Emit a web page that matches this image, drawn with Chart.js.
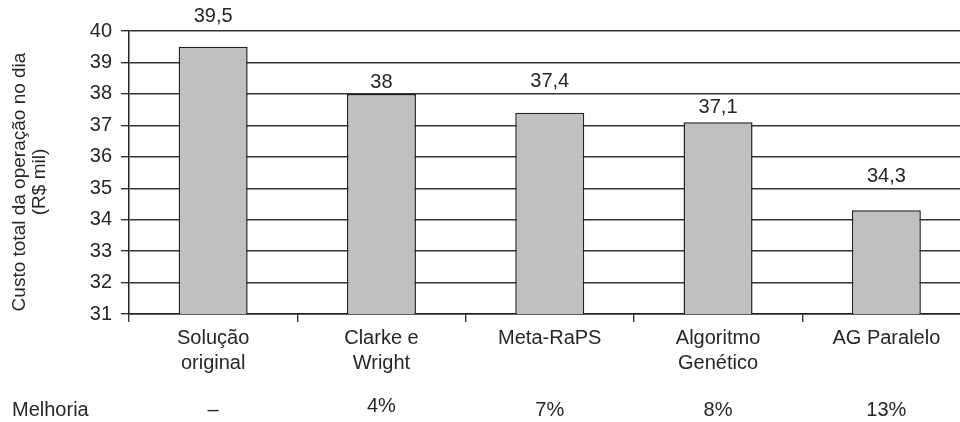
<!DOCTYPE html>
<html>
<head>
<meta charset="utf-8">
<script src="https://cdn.jsdelivr.net/npm/chart.js@4"></script>
<style>
  html, body { margin: 0; padding: 0; background: #fff; overflow: hidden; width: 960px; height: 422px; }
  canvas { display: block; }
</style>
</head>
<body>
<canvas id="chart" width="972" height="422"></canvas>
<script>
// ---- data ----
const categories = [['Solução', 'original'], ['Clarke e', 'Wright'], 'Meta-RaPS', ['Algoritmo', 'Genético'], 'AG Paralelo'];
const custo = [39.5, 38, 37.4, 37.1, 34.3];
const melhoria = ['–', '4%', '7%', '8%', '13%'];
const rowLabel = 'Melhoria';
const yMin = 31, yMax = 40, yStep = 1;
const axisTitle = ['Custo total da operação no dia', '(R$ mil)'];

// ---- styling ----
const FONT = '"Liberation Sans", Arial, Helvetica, sans-serif';
const INK = '#262626';
const LINE = '#333333';
const valueLift = [30, 11, 31, 15, 34];      // label height above each bar top (px)
const improvementLift = [0, 4, 0, 0, 0];     // small vertical nudges in the improvement row
const ROW_Y = 410;
const TITLE_X = [20, 40], TITLE_Y = 182;

Chart.defaults.font.family = FONT;
Chart.defaults.color = INK;

const fmt = v => String(v).replace('.', ',');

const annotations = {
  id: 'annotations',
  afterDatasetsDraw(chart) {
    const ctx = chart.ctx;
    const meta = chart.getDatasetMeta(0);
    const xs = chart.scales.x;
    ctx.save();
    ctx.font = '20px ' + FONT;
    ctx.fillStyle = INK;
    ctx.textBaseline = 'middle';
    ctx.textAlign = 'center';
    // values above the bars
    meta.data.forEach((bar, i) => {
      ctx.fillText(fmt(custo[i]), bar.x, bar.y - valueLift[i]);
    });
    // improvement row under the category labels
    ctx.textAlign = 'left';
    ctx.fillText(rowLabel, 12, ROW_Y);
    ctx.textAlign = 'center';
    melhoria.forEach((m, i) => {
      ctx.fillText(m, xs.getPixelForValue(i), ROW_Y - improvementLift[i]);
    });
    // rotated y-axis title
    ctx.font = '19px ' + FONT;
    axisTitle.forEach((line, i) => {
      ctx.save();
      ctx.translate(TITLE_X[i], TITLE_Y);
      ctx.rotate(-Math.PI / 2);
      ctx.fillText(line, 0, 0);
      ctx.restore();
    });
    ctx.restore();
  }
};

new Chart(document.getElementById('chart'), {
  type: 'bar',
  data: {
    labels: categories,
    datasets: [{
      data: custo,
      backgroundColor: '#c0c0c0',
      borderColor: '#222222',
      borderWidth: 1.5,
      borderSkipped: false,
      barPercentage: 0.41,
      categoryPercentage: 1.0
    }]
  },
  options: {
    responsive: false,
    animation: false,
    layout: { padding: { top: 31, right: 1.5, left: 0, bottom: 0 } },
    plugins: { legend: { display: false }, tooltip: { enabled: false } },
    scales: {
      x: {
        offset: true,
        grid: { offset: true, drawOnChartArea: false, drawTicks: true, tickLength: 8, color: LINE, lineWidth: 1.4 },
        border: { display: true, color: '#222222', width: 1.5 },
        ticks: { color: INK, font: { size: 20, lineHeight: 1.25 }, padding: 4, maxRotation: 0, autoSkip: false },
        afterFit(s) { s.height = 108; }
      },
      y: {
        min: yMin,
        max: yMax,
        ticks: { stepSize: yStep, color: INK, font: { size: 20 }, padding: 9 },
        grid: { color: LINE, lineWidth: 1.4, tickLength: 8 },
        border: { display: true, color: '#222222', width: 1.5 },
        afterFit(s) { s.width = 129; }
      }
    }
  },
  plugins: [annotations]
});
</script>
</body>
</html>
